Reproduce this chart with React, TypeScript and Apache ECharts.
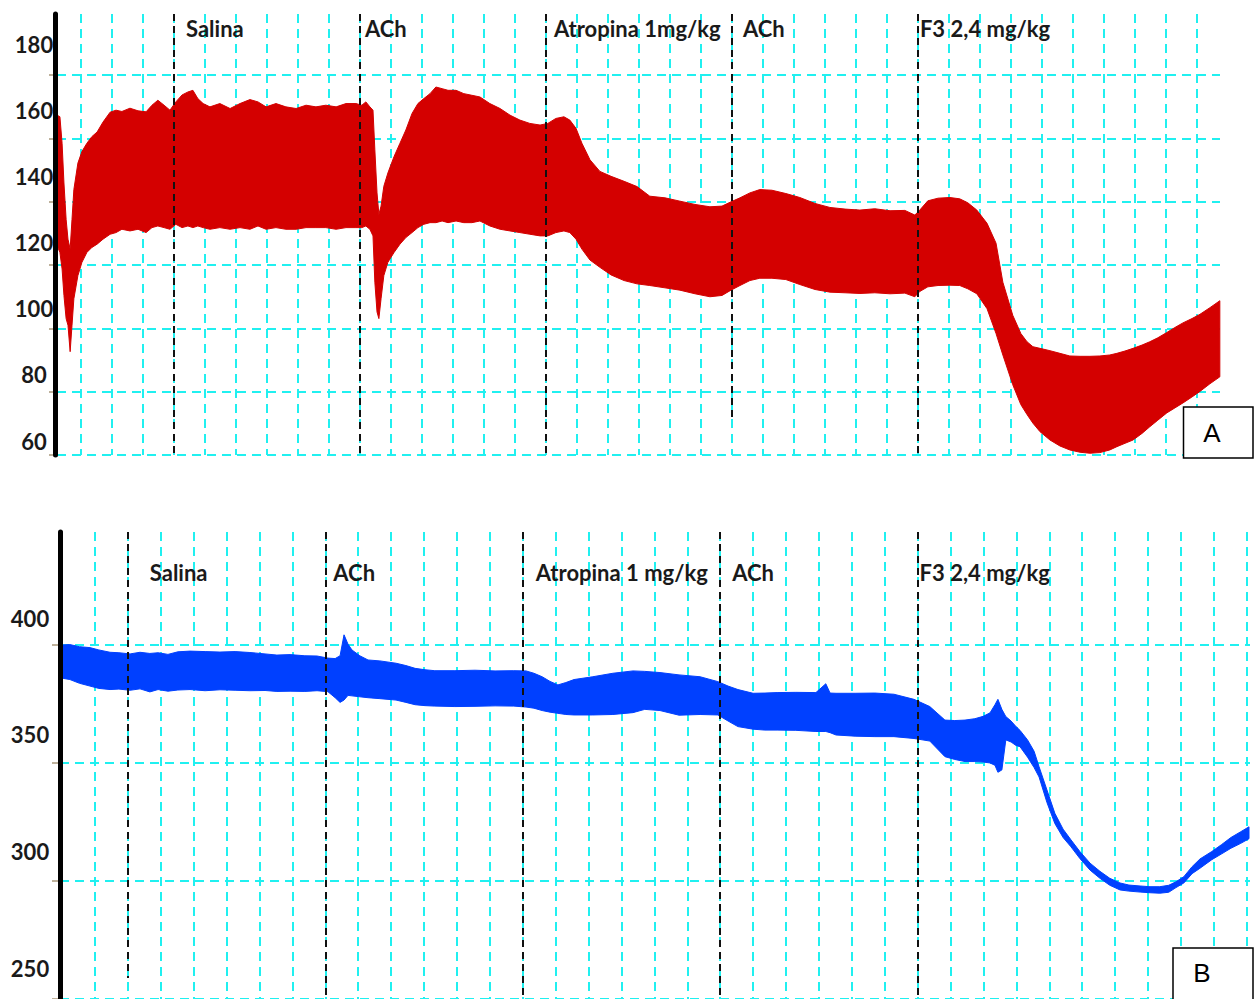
import React, { useEffect, useRef } from 'react';
import * as echarts from 'echarts';

// ---- Panel A: arterial pressure envelope (mmHg) ----
const tA = [
  0.23, 0.32, 0.39, 0.45, 0.52, 0.58, 0.65, 0.71, 0.77, 0.9,
  1.03, 1.19, 1.35, 1.52, 1.71, 1.94, 2.13, 2.32, 2.58, 2.84,
  3.1, 3.29, 3.48, 3.68, 3.87, 4.06, 4.26, 4.45, 4.61, 4.77,
  4.94, 5.16, 5.48, 5.81, 6.13, 6.45, 6.71, 6.97, 7.29, 7.61,
  7.94, 8.26, 8.58, 8.9, 9.23, 9.55, 9.87, 10.06, 10.19, 10.32,
  10.42, 10.48, 10.55, 10.61, 10.68, 10.77, 10.9, 11.1, 11.29, 11.48,
  11.68, 11.87, 12.06, 12.26, 12.45, 12.65, 12.84, 13.1, 13.35, 13.61,
  13.87, 14.19, 14.52, 14.84, 15.16, 15.48, 15.81, 16.06, 16.32, 16.58,
  16.77, 16.97, 17.16, 17.42, 17.74, 18.1, 18.52, 18.94, 19.35, 19.84,
  20.32, 20.81, 21.29, 21.68, 21.97, 22.26, 22.58, 22.9, 23.29, 23.74,
  24.19, 24.68, 25.16, 25.65, 26.13, 26.61, 27.1, 27.58, 27.9, 28.06,
  28.32, 28.65, 29.03, 29.35, 29.61, 29.9, 30.23, 30.52, 30.74, 31.06,
  31.32, 31.52, 31.71, 31.94, 32.26, 32.58, 32.9, 33.23, 33.55, 33.87,
  34.19, 34.42, 34.68, 34.94, 35.23, 35.48, 35.74, 36.03, 36.29, 36.55,
  36.84, 37.1, 37.42, 37.74,
];
const sysA = [
  158.5, 158, 150, 138, 127, 121, 118, 127, 136, 144,
  147.5, 150, 152, 153.4, 156.4, 159.4, 160, 159.6, 160.6, 159.8,
  159.5, 161.5, 163, 161.5, 160, 162.5, 164.6, 165.5, 166, 163.5,
  162, 161, 162, 160.5, 162, 163.2, 162.5, 161, 162, 161,
  160.5, 161.5, 161, 161.5, 161, 162, 162, 161.5, 162.5, 161,
  160, 148, 135, 128.5, 131, 137, 141, 146, 150, 154,
  159, 162, 163.5, 165, 167, 166.5, 166, 166, 165, 164.5,
  164, 162, 160.5, 158.5, 157, 156, 155.5, 156, 157.5, 158,
  157, 154.5, 150, 145, 141.5, 140, 138.5, 136.9, 134, 133.5,
  132.5, 131.5, 130.8, 131, 132.3, 133.5, 135, 136, 135.8, 134.8,
  133.6, 131.8, 130.6, 130.1, 129.8, 130.2, 129.6, 129.7, 128.3, 129.8,
  132.6, 133.4, 133.6, 133.2, 132, 129.8, 125.8, 119.8, 108, 98,
  92.5, 90, 88.5, 88, 87.3, 86.5, 85.7, 85.6, 85.6, 85.7,
  86, 86.5, 87.2, 88, 89, 90, 91.2, 92.8, 94.3, 95.7,
  97, 98.3, 100.3, 102.4,
];
const diaA = [
  119, 117, 112, 104, 97, 95, 87, 95, 103, 110,
  114, 117, 118.5, 119.5, 121, 122.5, 123, 124, 123.5, 124,
  123, 124.5, 125, 124.5, 124, 125.5, 124.5, 125, 124.5, 125,
  124.5, 124, 124.5, 124, 124.5, 124, 125, 124, 124.5, 124,
  124, 124.5, 124.5, 124.5, 124, 124.5, 124.5, 124.5, 125, 124,
  122, 108, 99, 97, 103, 110, 114, 117, 119.5, 121.5,
  123, 124.5, 125.5, 126, 126, 126.5, 126, 126.5, 126, 126,
  126.5, 125, 124, 123.5, 123, 122.5, 122, 122, 123, 123.5,
  123, 121, 118, 114.7, 112.5, 110.2, 108.5, 107.5, 107, 106.3,
  105.6, 104.5, 103.6, 104, 105.6, 107, 108.5, 109.2, 109.2, 108.8,
  107.3, 105.8, 105, 104.8, 104.6, 104.8, 104.5, 104.7, 103.6, 105.2,
  106.6, 107, 107.1, 107, 106, 104.5, 100, 92.5, 86, 77,
  71, 68, 65.4, 62.8, 60.3, 58.5, 57.3, 56.6, 56.3, 56.5,
  57.3, 58.3, 59.3, 60.3, 62.3, 64.3, 66.3, 68.5, 70, 71.5,
  73.3, 75, 77.3, 79.4,
];
const yTicksA = [60, 80, 100, 120, 140, 160, 180];
const eventTimesA = [4, 10, 16, 22, 28];
const eventNamesA = ['Salina', 'ACh', 'Atropina 1mg/kg', 'ACh', 'F3 2,4 mg/kg'];

// ---- Panel B: second recorded channel ----
const tB = [
  0, 0.24, 0.53, 0.85, 1.12, 1.46, 1.73, 2.07, 2.37, 2.67,
  2.92, 3.22, 3.52, 3.89, 4.35, 4.8, 5.26, 5.71, 6.17, 6.53,
  6.93, 7.38, 7.75, 8.08, 8.3, 8.45, 8.57, 8.69, 8.81, 9.05,
  9.3, 9.66, 10.15, 10.45, 10.73, 11.03, 11.33, 11.94, 12.55, 13.16,
  13.73, 14.1, 14.34, 14.59, 14.83, 15.07, 15.31, 15.56, 16.13, 16.74,
  17.35, 17.71, 18.17, 18.75, 19.39, 19.93, 20.24, 20.54, 21.0, 21.36,
  21.73, 22.3, 22.91, 23.21, 23.34, 23.52, 24.1, 24.7, 25.28, 25.89,
  26.37, 26.83, 27.13, 27.44, 27.74, 27.99, 28.2, 28.35, 28.44, 28.56,
  28.68, 28.84, 28.99, 29.11, 29.34, 29.54, 29.69, 29.93, 30.17, 30.42,
  30.66, 30.93, 31.24, 31.54, 31.84, 32.15, 32.42, 32.76, 33.06, 33.36,
  33.63, 33.85, 34.09, 34.34, 34.58, 34.94, 35.24, 35.52, 35.82, 36.07,
];
const sysB = [
  388.6, 388.8, 387.9, 387.5, 386.5, 385.5, 385.3, 384.8, 385.5, 385,
  385.3, 384.6, 385.7, 386, 385.8, 385.6, 385.8, 385.4, 384.8, 384.3,
  384.5, 384, 383.9, 383, 382.8, 384, 393, 389, 386.5, 384,
  382.2, 381.8, 380.8, 379.8, 378.6, 378, 377.6, 377.6, 377.8, 377.5,
  377.6, 377.5, 376.5, 375, 373, 371.5, 372.5, 373.8, 375, 376.5,
  377.5, 377.3, 376.8, 375.8, 375, 372.9, 371, 369.5, 367.9, 368,
  368.2, 368.3, 368.2, 372, 368, 367.9, 367.9, 368, 367.5, 365.3,
  362.2, 356.4, 356.2, 356.4, 357, 358, 359.5, 363, 365.3, 361,
  357.9, 356, 353.6, 352, 347.9, 343, 336.4, 326.4, 316.4, 309.6,
  305, 300, 295, 291.5, 288.5, 286.5, 285.6, 285.2, 284.9, 284.9,
  285.5, 287, 289.2, 293.5, 296.8, 300, 303, 306, 308.5, 310.6,
];
const diaB = [
  374.4, 373.8, 372.2, 371, 370, 369.5, 369.7, 369.2, 369.8, 368.5,
  369.5, 368.8, 369.3, 369.5, 369, 369.4, 369.2, 369, 369.1, 368.7,
  368.8, 368.7, 369, 368.6, 366, 364, 365, 367, 366.8, 366.4,
  366, 365.6, 365, 364, 363, 362.6, 362.4, 362.2, 362.3, 362.5,
  362.4, 362, 361.5, 360.5, 359.8, 359.3, 358.8, 358.6, 358.6, 358.8,
  359.6, 361, 360.5, 358.5, 358.8, 358.6, 356, 353.6, 352.5, 352.1,
  352.1, 352, 351.5, 351.5, 351, 350, 349.5, 349.3, 349.3, 348.5,
  347.4, 340.7, 339.5, 338.6, 338.6, 338.4, 338, 337, 334, 335,
  347.9, 347, 345.5, 345, 340.5, 336, 332, 321, 312, 306,
  302, 297, 292, 288.5, 285.5, 283.5, 283, 282.6, 282.3, 282.1,
  282.5, 284.5, 286.5, 290.5, 292.8, 296.5, 299, 301.4, 303.5, 305.5,
];
const yTicksB = [250, 300, 350, 400];
const eventTimesB = [2, 8, 14, 20, 26];
const eventNamesB = ['Salina', 'ACh', 'Atropina 1 mg/kg', 'ACh', 'F3 2,4 mg/kg'];

// ---- layout & style ----
const W = 1254;
const H = 999;
const RED = '#d40000';
const BLUE = '#0040ff';
const CYAN = '#20f0f0';
const GRID_DASH = [9, 6];
const EVENT_DASH = [7, 5];
const FONT = 'Lato, "Open Sans", sans-serif';

const yRangeA = [55.77, 189.07];
const xMaxA = 37.81;
const yRangeB = [236.7, 437.12];
const xMaxB = 36.1;
// where a marker line stops short of the axis bottom (null = full height)
const eventStopA = [null, null, null, 66.9, null];
const eventStopB = [245.7, null, null, null, null];
// label offsets from the marker line, px
const labelDxA = [12, 5, 8, 11, 2];
const labelDxB = [22, 8, 13, 12, 2];
const labelYA = 28;
const labelYB = 572;

// Filled envelope between the lower and upper traces, drawn as one polygon
// through the cartesian scales, plus the dashed event markers.
function bandSeries(
  key: string,
  t: number[],
  lo: number[],
  hi: number[],
  color: string,
  axis: number,
  events: number[],
  stops: (number | null)[],
  yRange: number[],
) {
  const band = {
    type: 'custom',
    name: key,
    xAxisIndex: axis,
    yAxisIndex: axis,
    silent: true,
    clip: true,
    z: 4,
    data: t.map((x, i) => [x, lo[i], hi[i]]),
    encode: { x: 0, y: [1, 2] },
    renderItem: (params: any, api: any) => {
      if (params.dataIndex !== 0) return null;
      const upper = t.map((x, i) => api.coord([x, hi[i]]));
      const lower = t.map((x, i) => api.coord([x, lo[i]])).reverse();
      return {
        type: 'polygon',
        shape: { points: upper.concat(lower) },
        style: { fill: color, stroke: color, lineWidth: 1 },
      };
    },
  };
  const markers = {
    type: 'line',
    name: key + '-events',
    xAxisIndex: axis,
    yAxisIndex: axis,
    data: [],
    silent: true,
    z: 8,
    markLine: {
      z: 12,
      silent: true,
      symbol: ['none', 'none'],
      label: { show: false },
      lineStyle: { color: '#111', type: EVENT_DASH, width: 2 },
      data: events.map((ev, i) => [
        { coord: [ev, yRange[1]] },
        { coord: [ev, stops[i] ?? yRange[0]] },
      ]),
    },
  };
  return [band, markers];
}

function buildOption() {
  const gridLine = { show: true, lineStyle: { color: CYAN, type: GRID_DASH, width: 2 } };
  const hiddenX = { type: 'value', show: false, min: 0, max: 1, z: 0 };
  const axisLabelStyle = {
    fontFamily: FONT,
    fontWeight: 'bold',
    fontSize: 22,
    color: '#1a1a1a',
    align: 'center',
  };
  const smallTick = { color: '#a8977a', width: 1.5 };
  return {
    animation: false,
    backgroundColor: '#ffffff',
    grid: [
      { left: 50, right: W - 1222, top: 14, bottom: H - 455, z: 0 },
      { left: 57, right: W - 1220, top: 43.3, bottom: H - 455, z: 0 },
      { left: 62, right: W - 1250, top: 532, bottom: 0, z: 0 },
      { left: 60, right: W - 1250, top: 586, bottom: -2.3, z: 0 },
    ],
    xAxis: [
      {
        type: 'value', gridIndex: 0, min: 0, max: xMaxA, interval: 1, z: 0,
        axisLine: { show: false }, axisTick: { show: false }, axisLabel: { show: false },
        splitLine: { ...gridLine, showMinLine: false, showMaxLine: false },
      },
      { ...hiddenX, gridIndex: 1 },
      {
        type: 'value', gridIndex: 2, min: 0, max: xMaxB, interval: 1, z: 0,
        axisLine: { show: false }, axisTick: { show: false }, axisLabel: { show: false },
        splitLine: { ...gridLine, showMinLine: false, showMaxLine: false },
      },
      { ...hiddenX, gridIndex: 3 },
    ],
    yAxis: [
      {
        type: 'value', gridIndex: 0, min: yRangeA[0], max: yRangeA[1], offset: -5.5, z: 6,
        axisLine: { show: true, onZero: false, lineStyle: { color: '#000', width: 5 } },
        axisTick: { show: false },
        splitLine: { show: false },
        axisLabel: { ...axisLabelStyle, margin: 21.5, customValues: yTicksA, hideOverlap: false },
      },
      {
        type: 'value', gridIndex: 1, min: 0, max: 13, interval: 1, z: 0,
        axisLine: { show: false }, axisLabel: { show: false },
        axisTick: { show: true, length: 8, customValues: [0, 2, 4, 6, 8, 10, 12], lineStyle: smallTick },
        splitLine: gridLine,
      },
      {
        type: 'value', gridIndex: 2, min: yRangeB[0], max: yRangeB[1], offset: 2, z: 6,
        axisLine: { show: true, onZero: false, lineStyle: { color: '#000', width: 5 } },
        axisTick: { show: false },
        splitLine: { show: false },
        axisLabel: { ...axisLabelStyle, margin: 30, customValues: yTicksB, hideOverlap: false },
      },
      {
        type: 'value', gridIndex: 3, min: 0, max: 7, interval: 1, z: 0,
        axisLine: { show: false }, axisLabel: { show: false },
        axisTick: { show: true, length: 8, customValues: [0, 2, 4, 6], lineStyle: smallTick },
        splitLine: gridLine,
      },
    ],
    series: [
      ...bandSeries('A', tA, diaA, sysA, RED, 0, eventTimesA, eventStopA, yRangeA),
      ...bandSeries('B', tB, diaB, sysB, BLUE, 2, eventTimesB, eventStopB, yRangeB),
    ],
  };
}

export default function App() {
  const ref = useRef<HTMLDivElement>(null);

  useEffect(() => {
    if (!ref.current) return;
    const chart = echarts.init(ref.current, null, { renderer: 'svg' });
    chart.setOption(buildOption());

    const eventText = (axis: number, times: number[], names: string[], dx: number[], y: number) =>
      times.map((t, i) => {
        const px = chart.convertToPixel({ xAxisIndex: axis }, t) as number;
        return {
          type: 'text',
          x: px + dx[i],
          y,
          z: 50,
          silent: true,
          style: {
            text: names[i],
            fill: '#1a1a1a',
            font: `bold 22px ${FONT}`,
            align: 'left',
            verticalAlign: 'middle',
          },
        };
      });

    const panelTag = (x: number, y: number, w: number, h: number, tag: string, tx: number, ty: number) => [
      {
        type: 'rect',
        z: 60,
        silent: true,
        shape: { x, y, width: w, height: h },
        style: { fill: '#ffffff', stroke: '#000000', lineWidth: 1.5 },
      },
      {
        type: 'text',
        z: 61,
        silent: true,
        x: tx,
        y: ty,
        style: {
          text: tag,
          fill: '#000000',
          font: '26px "Liberation Sans", Arial, sans-serif',
          align: 'center',
          verticalAlign: 'middle',
        },
      },
    ];

    chart.setOption({
      graphic: [
        ...eventText(0, eventTimesA, eventNamesA, labelDxA, labelYA),
        ...eventText(2, eventTimesB, eventNamesB, labelDxB, labelYB),
        ...panelTag(1183.5, 407, 69.5, 51, 'A', 1212, 433),
        ...panelTag(1173, 948, 80, 60, 'B', 1202, 973),
      ],
    });

    return () => chart.dispose();
  }, []);

  return (
    <div
      ref={ref}
      style={{ position: 'absolute', left: 0, top: 0, width: W, height: H, background: '#ffffff' }}
    />
  );
}
